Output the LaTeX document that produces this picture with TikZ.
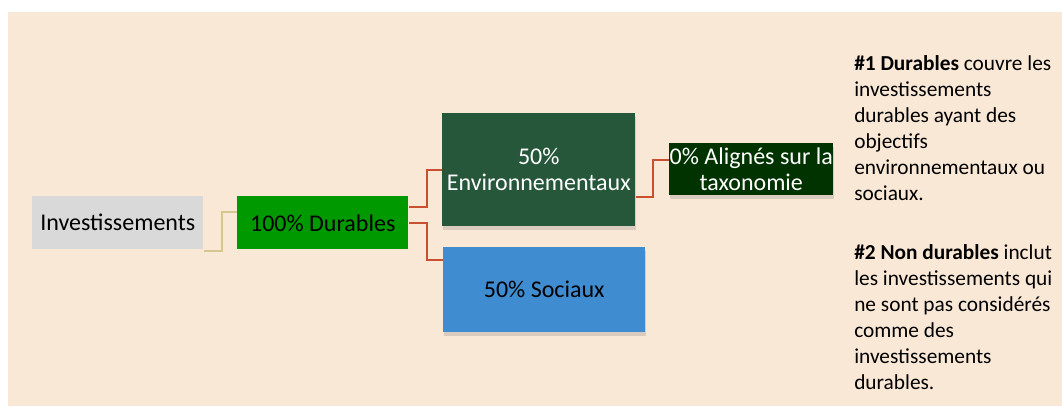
\documentclass[tikz,border=0pt]{standalone}
\usepackage{fontspec}
\setmainfont{Carlito}
\usepackage{xcolor}
\usetikzlibrary{calc,shadows}

\definecolor{fond}{RGB}{250,232,215}
\definecolor{gris}{RGB}{217,217,217}
\definecolor{vert}{RGB}{0,153,0}
\definecolor{vertenv}{RGB}{38,87,59}
\definecolor{bleusoc}{RGB}{64,140,208}
\definecolor{vertfonce}{RGB}{0,51,0}
\definecolor{rouge}{RGB}{200,80,48}
\definecolor{sable}{RGB}{214,200,140}

\tikzset{
  boite/.style={anchor=north west, inner sep=0pt, align=center, font=\fontsize{18}{19.5}\selectfont},
  ombre/.style={drop shadow={shadow xshift=0.5pt, shadow yshift=-2.5pt, opacity=0.22, fill=black!60}},
  lien/.style={draw=rouge, line width=1.5pt},
  lienclair/.style={draw=sable, line width=1.5pt},
  legende/.style={anchor=base west, inner sep=0pt, align=left, font=\fontsize{16}{19.5}\selectfont}
}

\begin{document}
\begin{tikzpicture}[x=0.75pt,y=-0.75pt]
\useasboundingbox (0,0) rectangle (1062,407);
% Fond
\fill[fond] (8,12) rectangle (1062,406);

% Boites
\node[boite, fill=gris, minimum width=128.25pt, minimum height=39.75pt] (inv) at (32,196) {Investissements};
\node[boite, fill=vert, minimum width=128.25pt, minimum height=39.75pt] (dur) at (237,196) {100\% Durables};
\node[boite, ombre, fill=vertenv, text=white, minimum width=144.75pt, minimum height=84.75pt] (env) at (442,113) {50\%\\Environnementaux};
\node[boite, ombre, fill=bleusoc, minimum width=151.5pt, minimum height=63.75pt] (soc) at (443,247) {50\% Sociaux};
\node[boite, ombre, fill=vertfonce, text=white, minimum width=123pt, minimum height=39pt] (ali) at (669,143) {0\% Alignés sur la\\taxonomie};

% Connecteurs
\draw[lienclair] ($(inv.south east)+(0,1)$) -- ++(18,0) |- ($(dur.west)+(0,-10.5)$);
\draw[lien] ($(dur.east)+(0,-15.5)$) -- ++(18,0) |- (env.west);
\draw[lien] (dur.east) -- ++(18,0) |- ($(soc.north west)+(0,13)$);
\draw[lien] ($(env.east)+(0,27.5)$) -- ++(17,0) |- ($(ali.west)+(0,-9)$);

% Legende (ancre sur la derniere ligne)
\node[legende] (p1) at (854,200) {\textbf{\#1 Durables} couvre les\\investissements\\durables ayant des\\objectifs\\environnementaux ou\\sociaux.};
\node[legende] (p2) at (854,389) {\textbf{\#2 Non durables} inclut\\les investissements qui\\ne sont pas considérés\\comme des\\investissements\\durables.};
\end{tikzpicture}
\end{document}
